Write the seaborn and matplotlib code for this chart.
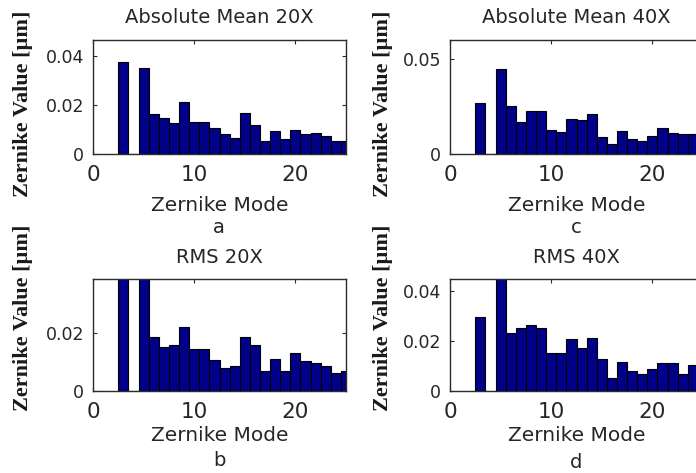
import matplotlib
matplotlib.use("Agg")
import matplotlib.pyplot as plt
import seaborn as sns
import pandas as pd

# ---------------- data ----------------
modes = list(range(3, 26))  # Zernike modes 3..25 (mode 4 is zero)

abs_mean_20x = [0.0378, 0.0, 0.0353, 0.0162, 0.0148, 0.0127, 0.0214, 0.0131, 0.0131,
                0.0106, 0.0082, 0.0067, 0.0168, 0.0120, 0.0055, 0.0096, 0.0061,
                0.0100, 0.0082, 0.0086, 0.0073, 0.0055, 0.0055]
abs_mean_40x = [0.0272, 0.0, 0.0451, 0.0254, 0.0170, 0.0226, 0.0226, 0.0126, 0.0118,
                0.0184, 0.0179, 0.0214, 0.0091, 0.0053, 0.0121, 0.0077, 0.0068,
                0.0095, 0.0135, 0.0112, 0.0105, 0.0105, 0.0100]
rms_20x = [0.0450, 0.0, 0.0440, 0.0186, 0.0152, 0.0157, 0.0221, 0.0146, 0.0146,
           0.0108, 0.0079, 0.0085, 0.0186, 0.0157, 0.0068, 0.0109, 0.0069,
           0.0131, 0.0102, 0.0098, 0.0085, 0.0062, 0.0068]
rms_40x = [0.0296, 0.0, 0.0480, 0.0233, 0.0251, 0.0264, 0.0253, 0.0151, 0.0151,
           0.0207, 0.0173, 0.0213, 0.0129, 0.0051, 0.0116, 0.0080, 0.0067,
           0.0089, 0.0111, 0.0111, 0.0067, 0.0103, 0.0090]

titles = ["Absolute Mean 20X", "Absolute Mean 40X", "RMS 20X", "RMS 40X"]
captions = ["a", "c", "b", "d"]
y_tops = [0.0465, 0.060, 0.0387, 0.0449]
y_ticks = [[0, 0.02, 0.04], [0, 0.05], [0, 0.02], [0, 0.02, 0.04]]
y_ticklabels = [["0", "0.02", "0.04"], ["0", "0.05"], ["0", "0.02"], ["0", "0.02", "0.04"]]
x_ticks = [0, 10, 20]
x_label = "Zernike Mode"
y_label = "Zernike Value [µm]"

series = [abs_mean_20x, abs_mean_40x, rms_20x, rms_40x]

# ---------------- style ----------------
sns.set_style("white")
plt.rcParams["font.family"] = ["DejaVu Sans"]
text_color = "#262626"

W, H = 696, 473
fig = plt.figure(figsize=(W / 100, H / 100), dpi=100)
fig.patch.set_facecolor("white")

# axes boxes in pixels: left, top, right, bottom
boxes = [(93, 40.5, 346, 154), (450, 40.5, 703, 154),
         (93, 278.5, 346, 391), (450, 278.5, 703, 391)]
title_pads = [12.5, 12.5, 11.2, 11.2]
xlabel_tops = [196, 196, 426, 426]
caption_pos = [(219, 233), (576, 233), (219, 466), (576, 468)]
ylabel_pos = [(23, 103.5), (383, 103.5), (23, 318), (383, 318)]

for i, (box, vals) in enumerate(zip(boxes, series)):
    l, t, r, b = box
    ax = fig.add_axes([l / W, 1 - b / H, (r - l) / W, (b - t) / H])
    df = pd.DataFrame({"mode": modes, "value": vals})
    sns.barplot(data=df, x="mode", y="value", native_scale=True, width=1.0,
                color="#000088", saturation=1, edgecolor="black", linewidth=0.8,
                errorbar=None, ax=ax)
    ax.set_xlim(0, 25)
    ax.set_ylim(0, y_tops[i])
    ax.set_xticks(x_ticks)
    ax.set_xticklabels([str(v) for v in x_ticks])
    ax.set_yticks(y_ticks[i])
    ax.set_yticklabels(y_ticklabels[i])
    ax.tick_params(axis="both", direction="in", length=3, width=0.8,
                   top=True, right=True, bottom=True, left=True,
                   colors="#2b2b2b", labelcolor=text_color)
    ax.tick_params(axis="x", labelsize=15.5, pad=8)
    ax.tick_params(axis="y", labelsize=12.5, pad=6.5)
    for sp in ax.spines.values():
        sp.set_visible(True)
        sp.set_color("#2b2b2b")
        sp.set_linewidth(1.0)
    ax.set_title(titles[i], fontsize=14, color=text_color, pad=title_pads[i])
    ax.set_xlabel(x_label, fontsize=14.5, color=text_color, va="top")
    ax.xaxis.set_label_coords(0.5, (b - xlabel_tops[i]) / (b - t))
    ax.set_ylabel("")
    cx, cy = caption_pos[i]
    fig.text(cx / W, 1 - cy / H, captions[i], ha="center", va="baseline",
             fontsize=14, color=text_color)
    lx, ly = ylabel_pos[i]
    fig.text(lx / W, 1 - ly / H, y_label, rotation=90, ha="center", va="center",
             fontsize=16, fontweight="bold", family=["Liberation Serif", "DejaVu Serif"],
             color="#1a1a1a")

fig.savefig("out.png", dpi=100)
